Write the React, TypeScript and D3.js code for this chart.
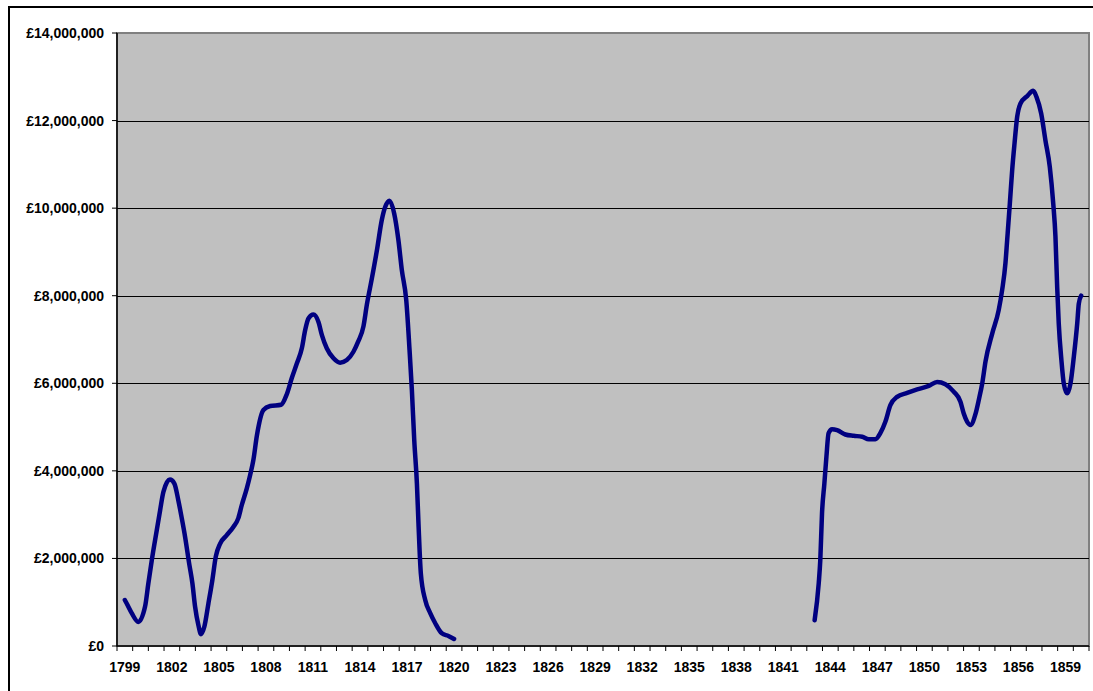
import React from "react";
import * as d3 from "d3";

// Segment 1: 1799–1820 (year, £ millions)
const years1 = [
  1799.0, 1799.12, 1799.44, 1799.86, 1800.29, 1800.5, 1800.72, 1801.04, 1801.25, 1801.46,
  1801.88, 1802.16, 1802.41, 1802.63, 1802.84, 1803.1, 1803.31, 1803.48, 1803.69, 1803.86,
  1804.07, 1804.33, 1804.58, 1804.8, 1805.08, 1805.5, 1805.92, 1806.24, 1806.46, 1806.78,
  1806.99, 1807.2, 1807.42, 1807.84, 1808.27, 1808.97, 1809.33, 1809.65, 1809.97, 1810.29,
  1810.5, 1810.71, 1811.03, 1811.35, 1811.57, 1811.88, 1812.31, 1812.73, 1813.16, 1813.58,
  1813.88, 1814.22, 1814.44, 1814.76, 1815.08, 1815.39, 1815.61, 1815.88, 1816.18, 1816.45,
  1816.67, 1816.95, 1817.16, 1817.31, 1817.46, 1817.63, 1817.73, 1817.88, 1818.16, 1818.48,
  1818.8, 1819.22, 1819.64, 1820.0,
];
const values1 = [
  1.05, 0.97, 0.75, 0.55, 0.9, 1.43, 1.96, 2.65, 3.1, 3.52,
  3.8, 3.71, 3.33, 2.92, 2.5, 1.89, 1.43, 0.9, 0.48, 0.27,
  0.44, 0.97, 1.5, 2.04, 2.34, 2.53, 2.72, 2.92, 3.22, 3.6,
  3.9, 4.25, 4.8, 5.39, 5.48, 5.51, 5.75, 6.12, 6.45, 6.8,
  7.21, 7.48, 7.57, 7.4, 7.1, 6.8, 6.57, 6.47, 6.53, 6.72,
  6.95, 7.3, 7.8, 8.4, 9.04, 9.73, 10.03, 10.17, 9.88, 9.27,
  8.58, 7.9, 6.76, 5.84, 4.7, 3.71, 2.8, 1.66, 1.05, 0.75,
  0.52, 0.29, 0.23, 0.16,
];

// Segment 2: 1843–1860
const years2 = [
  1843.0, 1843.26, 1843.36, 1843.47, 1843.62, 1843.75, 1843.89, 1844.11, 1844.43, 1844.96,
  1845.49, 1846.03, 1846.45, 1846.87, 1847.19, 1847.51, 1847.83, 1848.26, 1848.9, 1849.54,
  1850.28, 1850.81, 1851.34, 1851.87, 1852.3, 1852.51, 1852.73, 1852.94, 1853.26, 1853.47,
  1853.69, 1853.9, 1854.33, 1854.74, 1854.96, 1855.17, 1855.28, 1855.45, 1855.6, 1855.75,
  1855.92, 1856.13, 1856.56, 1856.94, 1857.15, 1857.45, 1857.72, 1858.0, 1858.22, 1858.36,
  1858.47, 1858.57, 1858.74, 1858.89, 1859.11, 1859.32, 1859.53, 1859.75, 1859.85, 1860.0,
];
const values2 = [
  0.59, 1.43, 1.96, 3.03, 3.71, 4.32, 4.86, 4.95, 4.93, 4.83,
  4.8, 4.78, 4.72, 4.72, 4.86, 5.12, 5.5, 5.69, 5.78, 5.86,
  5.94, 6.03, 5.98, 5.81, 5.58, 5.31, 5.12, 5.05, 5.3, 5.62,
  6.0, 6.5, 7.14, 7.67, 8.13, 8.74, 9.27, 10.1, 10.87, 11.48,
  12.09, 12.39, 12.56, 12.68, 12.54, 12.16, 11.55, 10.94, 10.1, 9.35,
  8.2, 7.37, 6.53, 6.0, 5.77, 6.0, 6.6, 7.37, 7.82, 8.0,
];

const firstYear = 1799;
const lastYear = 1860;
const labelStep = 3;
const yTicks = [0, 2, 4, 6, 8, 10, 12, 14];

const W = 1093;
const H = 691;
const plot = { left: 117, right: 1089, top: 33, bottom: 646 };

export default function App() {
  const x = d3
    .scaleLinear()
    .domain([firstYear - 0.5, lastYear + 0.5])
    .range([plot.left, plot.right]);
  const y = d3.scaleLinear().domain([0, 14]).range([plot.bottom, plot.top]);

  const line = d3
    .line<[number, number]>()
    .x((d) => x(d[0]))
    .y((d) => y(d[1]))
    .curve(d3.curveMonotoneX);

  const seg1 = years1.map((yr, i) => [yr, values1[i]] as [number, number]);
  const seg2 = years2.map((yr, i) => [yr, values2[i]] as [number, number]);

  const cats = d3.range(firstYear, lastYear + 1);
  const boundaries = d3.range(firstYear - 0.5, lastYear + 1, 1);
  const fmt = (v: number) => "£" + d3.format(",")(v * 1000000);
  const font = "'Liberation Sans', Arial, sans-serif";

  return (
    <svg
      width={W}
      height={H}
      style={{ position: "absolute", left: 0, top: 0, background: "#fff" }}
    >
      <rect x={9} y={7} width={1200} height={800} fill="#fff" stroke="#000" strokeWidth={2} />
      <rect
        x={plot.left}
        y={plot.top}
        width={plot.right - plot.left}
        height={plot.bottom - plot.top}
        fill="#C0C0C0"
        stroke="#808080"
        strokeWidth={2}
      />
      {yTicks.slice(1, -1).map((t) => (
        <line
          key={"g" + t}
          x1={plot.left}
          x2={plot.right}
          y1={Math.round(y(t)) + 0.5}
          y2={Math.round(y(t)) + 0.5}
          stroke="#000"
          strokeWidth={1}
        />
      ))}
      <line x1={plot.left} x2={plot.left} y1={plot.top} y2={plot.bottom} stroke="#000" strokeWidth={1.5} />
      <line x1={plot.left} x2={plot.right} y1={plot.bottom} y2={plot.bottom} stroke="#000" strokeWidth={1.5} />
      {yTicks.map((t) => (
        <g key={"y" + t}>
          <line x1={plot.left - 5} x2={plot.left} y1={y(t)} y2={y(t)} stroke="#000" strokeWidth={1} />
          <text
            x={104}
            y={y(t) + 5}
            textAnchor="end"
            fontFamily={font}
            fontWeight="bold"
            fontSize={14}
            fill="#000"
          >
            {fmt(t)}
          </text>
        </g>
      ))}
      {boundaries.map((b) => (
        <line
          key={"t" + b}
          x1={x(b)}
          x2={x(b)}
          y1={plot.bottom}
          y2={plot.bottom + 5}
          stroke="#000"
          strokeWidth={1}
        />
      ))}
      {cats
        .filter((c) => (c - firstYear) % labelStep === 0)
        .map((c) => (
          <text
            key={"x" + c}
            x={x(c)}
            y={672}
            textAnchor="middle"
            fontFamily={font}
            fontWeight="bold"
            fontSize={14}
            fill="#000"
          >
            {c}
          </text>
        ))}
      {[seg1, seg2].map((s, i) => (
        <path
          key={"s" + i}
          d={line(s) || ""}
          fill="none"
          stroke="#000080"
          strokeWidth={4.5}
          strokeLinejoin="round"
          strokeLinecap="round"
        />
      ))}
    </svg>
  );
}
